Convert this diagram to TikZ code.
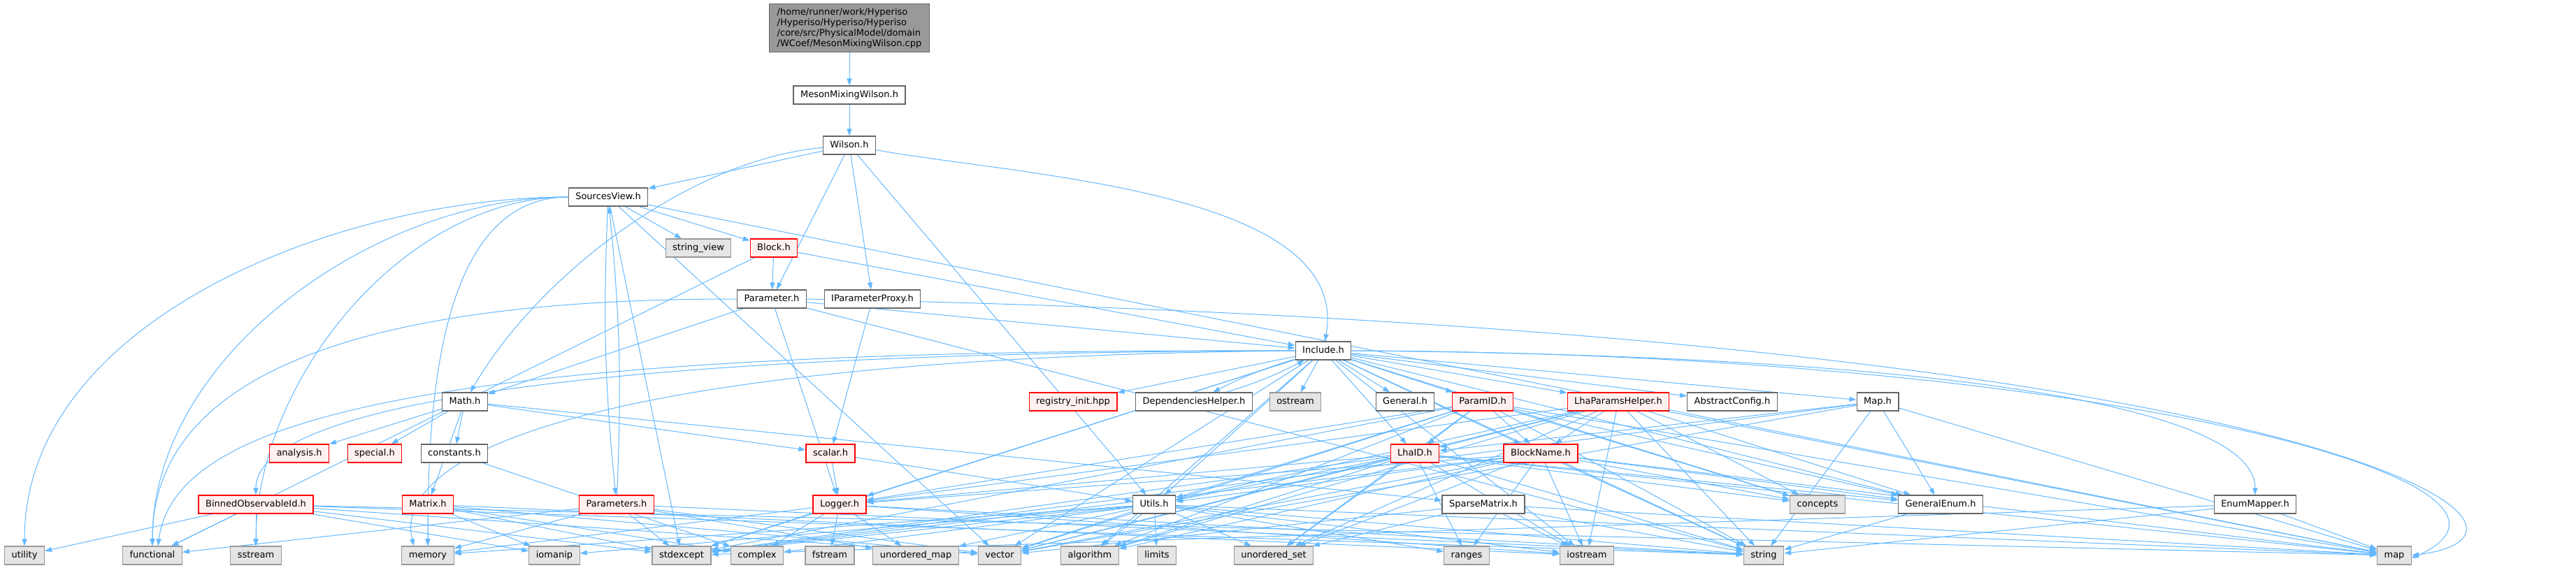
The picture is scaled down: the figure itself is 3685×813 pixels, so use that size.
\documentclass[tikz,border=0pt]{standalone}
\usepackage{fontspec}
\setmainfont{DejaVu Sans}
\usetikzlibrary{arrows.meta,backgrounds}
\definecolor{edgeblue}{HTML}{63B8FF}
\definecolor{grey40}{HTML}{666666}
\definecolor{grey60}{HTML}{999999}
\definecolor{grey90}{HTML}{E5E5E5}
\definecolor{cutfill}{HTML}{FFF0F0}
\newcommand{\hdrfont}{\fontsize{13pt}{15pt}\selectfont}

\tikzset{
  hdr/.style={draw=grey40, fill=white, line width=1.2pt, minimum height=26pt,
    inner xsep=10pt, inner ysep=0pt, font=\hdrfont, text height=10pt, text depth=3pt},
  syshdr/.style={hdr, draw=grey60, fill=grey90},
  cuthdr/.style={hdr, draw=red, fill=cutfill},
  rootfile/.style={draw=grey40, fill=grey60, line width=1.2pt, font=\hdrfont,
    align=left, inner xsep=11pt, inner ysep=6pt},
  dep/.style={edgeblue, line width=1pt, -{Triangle[length=10pt,width=7pt]}},
  westdown/.style={out=180, in=90, looseness=0.9},
}

\begin{document}
\begin{tikzpicture}[x=1pt,y=-1pt]
  \useasboundingbox (0,0) rectangle (3685,813);
  % upper part
  \node[rootfile] (cpp) at (1215,40) {/home/runner/work/Hyperiso\\/Hyperiso/Hyperiso/Hyperiso\\/core/src/PhysicalModel/domain\\/WCoef/MesonMixingWilson.cpp};
  \node[hdr] (mmw) at (1215,136) {MesonMixingWilson.h};
  \node[hdr] (wilson) at (1215,208) {Wilson.h};
  \node[hdr] (srcview) at (870,282) {SourcesView.h};
  \node[syshdr] (strview) at (999,355) {string\_view};
  \node[cuthdr] (block) at (1107,355) {Block.h};
  \node[hdr] (param) at (1104,428) {Parameter.h};
  \node[hdr] (iproxy) at (1248,428) {IParameterProxy.h};
  \node[hdr] (incl) at (1893,502) {Include.h};
  % second row
  \node[hdr] (math) at (665,575) {Math.h};
  \node[cuthdr] (reginit) at (1535,575) {registry\_init.hpp};
  \node[hdr] (dephelp) at (1708,575) {DependenciesHelper.h};
  \node[syshdr] (ostream) at (1853,575) {ostream};
  \node[hdr] (general) at (2010,575) {General.h};
  \node[cuthdr] (paramid) at (2121,575) {ParamID.h};
  \node[cuthdr] (lhaph) at (2315,575) {LhaParamsHelper.h};
  \node[hdr] (absconf) at (2478,575) {AbstractConfig.h};
  \node[hdr] (maph) at (2686,575) {Map.h};
  % third row
  \node[cuthdr] (analysis) at (428,649) {analysis.h};
  \node[cuthdr] (special) at (536,649) {special.h};
  \node[hdr] (constants) at (650,649) {constants.h};
  \node[cuthdr] (scalar) at (1188,649) {scalar.h};
  \node[cuthdr] (lhaid) at (2024,649) {LhaID.h};
  \node[cuthdr] (blockname) at (2204,649) {BlockName.h};
  % fourth row
  \node[cuthdr] (binned) at (366,722) {BinnedObservableId.h};
  \node[cuthdr] (matrix) at (612,722) {Matrix.h};
  \node[cuthdr] (params) at (882,722) {Parameters.h};
  \node[cuthdr] (logger) at (1201,722) {Logger.h};
  \node[hdr] (utils) at (1651,722) {Utils.h};
  \node[hdr] (sparse) at (2122,722) {SparseMatrix.h};
  \node[syshdr] (concepts) at (2600,722) {concepts};
  \node[hdr] (genenum) at (2776,722) {GeneralEnum.h};
  \node[hdr] (enummap) at (3226,722) {EnumMapper.h};
  % standard headers
  \node[syshdr] (utility) at (35,795) {utility};
  \node[syshdr] (functional) at (218,795) {functional};
  \node[syshdr] (sstream) at (366,795) {sstream};
  \node[syshdr] (memory) at (612,795) {memory};
  \node[syshdr] (iomanip) at (793,795) {iomanip};
  \node[syshdr] (stdexcept) at (975,795) {stdexcept};
  \node[syshdr] (complex) at (1083,795) {complex};
  \node[syshdr] (fstream) at (1187,795) {fstream};
  \node[syshdr] (umap) at (1310,795) {unordered\_map};
  \node[syshdr] (vector) at (1430,795) {vector};
  \node[syshdr] (algorithm) at (1559,795) {algorithm};
  \node[syshdr] (limits) at (1655,795) {limits};
  \node[syshdr] (uset) at (1822,795) {unordered\_set};
  \node[syshdr] (ranges) at (2098,795) {ranges};
  \node[syshdr] (iostream) at (2270,795) {iostream};
  \node[syshdr] (string) at (2523,795) {string};
  \node[syshdr] (map) at (3425,795) {map};

  \begin{scope}[on background layer]
    \draw[dep] (cpp) -- (mmw);
    \draw[dep] (mmw) -- (wilson);
    \draw[dep] (wilson) to[out=185, in=60, looseness=0.8] (math);
    \draw[dep] (wilson) to[out=-10, in=80, looseness=0.8] (incl);
    \foreach \t in {srcview,param,iproxy,utils}
      \draw[dep] (wilson) -- (\t);
    \foreach \t in {utility,sstream,memory,functional}
      \draw[dep] (srcview) to[westdown] (\t);
    \foreach \t in {stdexcept,vector,strview,block,map}
      \draw[dep] (srcview) -- (\t);
    \draw[dep] (srcview) to[bend right=4] (params);
    \draw[dep] (params) to[bend right=4] (srcview);
    \foreach \t in {param,incl,functional}
      \draw[dep] (block) -- (\t);
    \draw[dep] (param) to[westdown] (functional);
    \draw[dep] (param.east) .. controls (3300,470) and (3720,760) .. (map.east);
    \foreach \t in {math,logger,incl,string}
      \draw[dep] (param) -- (\t);
    \draw[dep] (iproxy) -- (scalar);
    \foreach \t in {analysis,special,constants,matrix,scalar,sparse}
      \draw[dep] (math) -- (\t);
    \draw[dep] (constants) -- (complex);
    \foreach \t in {utility,functional,sstream,stdexcept,iomanip,vector,string,map}
      \draw[dep] (binned) -- (\t);
    \foreach \t in {memory,vector,stdexcept,iostream,iomanip,complex}
      \draw[dep] (matrix) -- (\t);
    \foreach \t in {memory,functional,stdexcept,string,umap,vector}
      \draw[dep] (params) -- (\t);
    \foreach \t in {logger,utils}
      \draw[dep] (scalar) -- (\t);
    \foreach \t in {complex,fstream,umap,string,iostream,memory,stdexcept}
      \draw[dep] (logger) -- (\t);
    \draw[dep] (incl.west) .. controls (700,505) and (366,600) .. (binned.north);
    \draw[dep] (incl.west) .. controls (600,498) and (250,600) .. ([xshift=8pt]functional.north);
    \draw[dep] (incl.west) .. controls (850,512) and (560,650) .. ([xshift=-20pt]memory.north);
    \draw[dep] (incl.east) .. controls (3000,505) and (3690,690) .. ([yshift=-4pt]map.east);
    \draw[dep] (incl.east) .. controls (2900,510) and (3226,600) .. (enummap.north);
    \foreach \t in {reginit,ostream,general,paramid,lhaph,absconf,maph,lhaid,blockname,logger,utils,concepts,genenum,string,vector,stdexcept,algorithm,iostream}
      \draw[dep] (incl) -- (\t);
    \draw[dep] (incl) to[bend right=5] (dephelp);
    \draw[dep] (dephelp) to[bend right=5] (incl);
    \foreach \t in {lhaid,blockname,logger,utils,concepts,genenum,string,map,vector,uset,stdexcept,algorithm}
      \draw[dep] (paramid) -- (\t);
    \foreach \t in {blockname,lhaid,logger,utils,concepts,genenum,string,map,vector,iostream,uset,algorithm}
      \draw[dep] (lhaph) -- (\t);
    \foreach \t in {lhaid,genenum,map,string,vector,stdexcept}
      \draw[dep] (maph) -- (\t);
    \foreach \t in {logger,utils,ranges,iostream,string,vector,algorithm,uset,concepts,genenum,map,stdexcept}
      \draw[dep] (lhaid) -- (\t);
    \foreach \t in {logger,utils,ranges,iostream,string,vector,algorithm,uset,concepts,genenum,map,stdexcept}
      \draw[dep] (blockname) -- (\t);
    \foreach \t in {vector,algorithm,limits,uset,umap,stdexcept,complex,iostream,string,map,ranges,iomanip,memory}
      \draw[dep] (utils) -- (\t);
    \foreach \t in {iostream,string,map,vector,uset}
      \draw[dep] (sparse) -- (\t);
    \draw[dep] (genenum) -- (string);
    \foreach \t in {string,map,stdexcept}
      \draw[dep] (enummap) -- (\t);
  \end{scope}
\end{tikzpicture}
\end{document}
